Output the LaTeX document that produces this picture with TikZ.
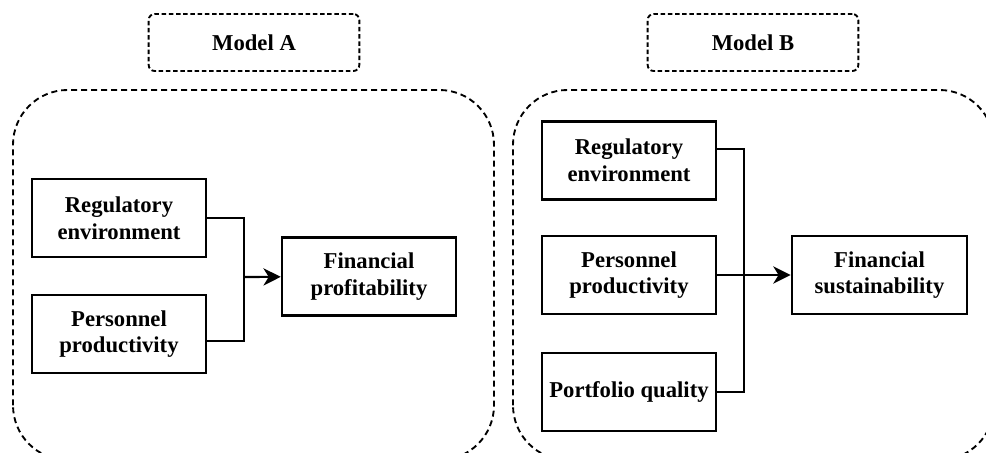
\documentclass[tikz,border=0pt]{standalone}
\usepackage{fontspec}
\setmainfont{Liberation Serif}
\usetikzlibrary{arrows.meta}

\begin{document}
\begin{tikzpicture}[x=0.75pt, y=0.75pt, >={Stealth[length=13pt,width=13pt,inset=4pt]}]
        \tikzstyle{factor}=[draw, line width=1.9pt, shape=rectangle, minimum width=130.5pt, minimum height=58.5pt, align=center, inner sep=1pt, font=\fontsize{17}{20}\selectfont\bfseries]
        \tikzstyle{title}=[draw, dash pattern=on 3.4pt off 2pt, line width=1.4pt, rounded corners=4.5pt, minimum width=158pt, minimum height=42.75pt, font=\fontsize{17}{20}\selectfont\bfseries]
        \tikzstyle{frame}=[draw, dash pattern=on 4.5pt off 3pt, line width=1.4pt, rounded corners=41pt]
        \tikzstyle{link}=[line width=1.6pt]

        \useasboundingbox (0,0) rectangle (986,453);

        % group frames
        \draw[frame] (13,-7) rectangle (494,363);
        \draw[frame] (513,-7) rectangle (994,363);

        \node[title](tA) at (254,410.5){Model A};
        \node[title](tB) at (753,410.5){Model B};

        % model A
        \node[factor](regA) at (119,235){Regulatory\\environment};
        \node[factor](perA) at (119,119){Personnel\\productivity};
        \node[factor](finA) at (369,176.5){Financial\\profitability};
        \coordinate (jA) at (244,176);

        % model B
        \node[factor](regB) at (629,292.5){Regulatory\\environment};
        \node[factor](perB) at (629,178){Personnel\\productivity};
        \node[factor](porB) at (629,61){Portfolio quality};
        \node[factor, minimum width=131.5pt](finB) at (879.5,178){Financial\\sustainability};
        \coordinate (jB) at (744,178);

        \draw[link] (regA.east) -| (jA);
        \draw[link] ([yshift=-5.25pt]perA.east) -| (jA);
        \draw[link,->] (jA) -- (finA);

        \draw[link] ([yshift=8.6pt]regB.east) -| (jB);
        \draw[link] (porB.east) -| (jB);
        \draw[link,->] (perB) -- (finB);

        \end{tikzpicture}
\end{document}
